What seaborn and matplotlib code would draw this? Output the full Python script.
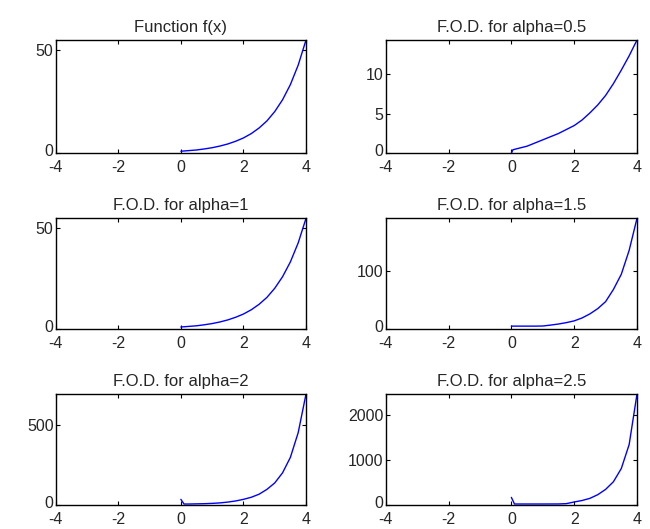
import matplotlib
matplotlib.use("Agg")
import matplotlib.pyplot as plt
import matplotlib.transforms as mtransforms
import seaborn as sns

# valeurs
x_f = [0, 0.25, 0.5, 0.75, 1, 1.25, 1.5, 1.75, 2, 2.25, 2.5, 2.75, 3, 3.25, 3.5, 3.75, 4]
y_f = [1.0, 1.3, 1.6, 2.1, 2.7, 3.5, 4.5, 5.8, 7.4, 9.5, 12.2, 15.6, 20.1, 25.8, 33.1, 42.5, 54.6]

x_a05 = [0, 0.05, 0.25, 0.5, 0.75, 1, 1.25, 1.5, 1.75, 2, 2.25, 2.5, 2.75, 3, 3.25, 3.5, 3.75, 4]
y_a05 = [0, 0.45, 0.65, 0.9, 1.3, 1.7, 2.1, 2.5, 3.0, 3.5, 4.2, 5.1, 6.1, 7.3, 8.8, 10.5, 12.3, 14.3]

x_a1 = x_f
y_a1 = y_f

x_a15 = [0, 0.25, 0.5, 0.75, 1, 1.25, 1.5, 1.75, 2, 2.25, 2.5, 2.75, 3, 3.25, 3.5, 3.75, 4]
y_a15 = [5, 5, 5, 5, 5.2, 6.8, 8.6, 11, 14, 19, 26, 35, 47, 68, 94, 135, 190]

x_a2 = [0, 0.1, 0.25, 0.5, 0.75, 1, 1.25, 1.5, 1.75, 2, 2.25, 2.5, 2.75, 3, 3.25, 3.5, 3.75, 4]
y_a2 = [35, 6, 6, 7, 8, 10, 13, 18, 25, 35, 48, 67, 97, 137, 200, 296, 450, 690]

x_a25 = [0, 0.1, 0.5, 1, 1.5, 1.75, 2, 2.25, 2.5, 2.75, 3, 3.25, 3.5, 3.75, 4]
y_a25 = [170, 22, 22, 22, 23, 30, 67, 100, 148, 230, 348, 520, 815, 1350, 2480]

titles = ["Function f(x)", "F.O.D. for alpha=0.5", "F.O.D. for alpha=1",
          "F.O.D. for alpha=1.5", "F.O.D. for alpha=2", "F.O.D. for alpha=2.5"]
yticks = [[0, 50], [0, 5, 10], [0, 50], [0, 100], [0, 500], [0, 1000, 2000]]
series = [(x_f, y_f), (x_a05, y_a05), (x_a1, y_a1),
          (x_a15, y_a15), (x_a2, y_a2), (x_a25, y_a25)]

sns.set_style("ticks")
plt.rcParams["font.family"] = ["Liberation Sans", "DejaVu Sans"]
plt.rcParams["axes.unicode_minus"] = False

fig = plt.figure(figsize=(6.5, 5.29), dpi=100)

lefts = [0.0857, 0.5934]
width_l = 0.4708 - 0.0857
width_r = 0.98 - 0.5934
rows = [(0.7102, 0.9244), (0.378, 0.5873), (0.0454, 0.2552)]

# petit décalage vers le haut du "0" pour ne pas toucher le "-4"
lift = mtransforms.ScaledTranslation(0, 3 / 100, fig.dpi_scale_trans)

for i, ((xs, ys), title, yt) in enumerate(zip(series, titles, yticks)):
    r, c = divmod(i, 2)
    bottom, top = rows[r]
    w = width_l if c == 0 else width_r
    ax = fig.add_axes([lefts[c], bottom, w, top - bottom])
    sns.lineplot(x=xs, y=ys, ax=ax, color="#0000ff", linewidth=1.0)
    ax.set_xlim(-4, 4)
    ax.set_ylim(0, max(ys))
    ax.set_xticks([-4, -2, 0, 2, 4])
    ax.set_yticks(yt)
    ax.set_title(title, fontsize=12, pad=6)
    ax.tick_params(direction="in", top=True, right=True, length=3,
                   width=0.8, labelsize=11.5, color="black")
    ax.tick_params(axis="x", pad=5)
    ax.tick_params(axis="y", pad=1.5)
    lab0 = ax.get_yticklabels()[0]
    lab0.set_transform(lab0.get_transform() + lift)
    for sp in ax.spines.values():
        sp.set_linewidth(1.0)
        sp.set_color("black")

fig.savefig("out.png", dpi=100)
